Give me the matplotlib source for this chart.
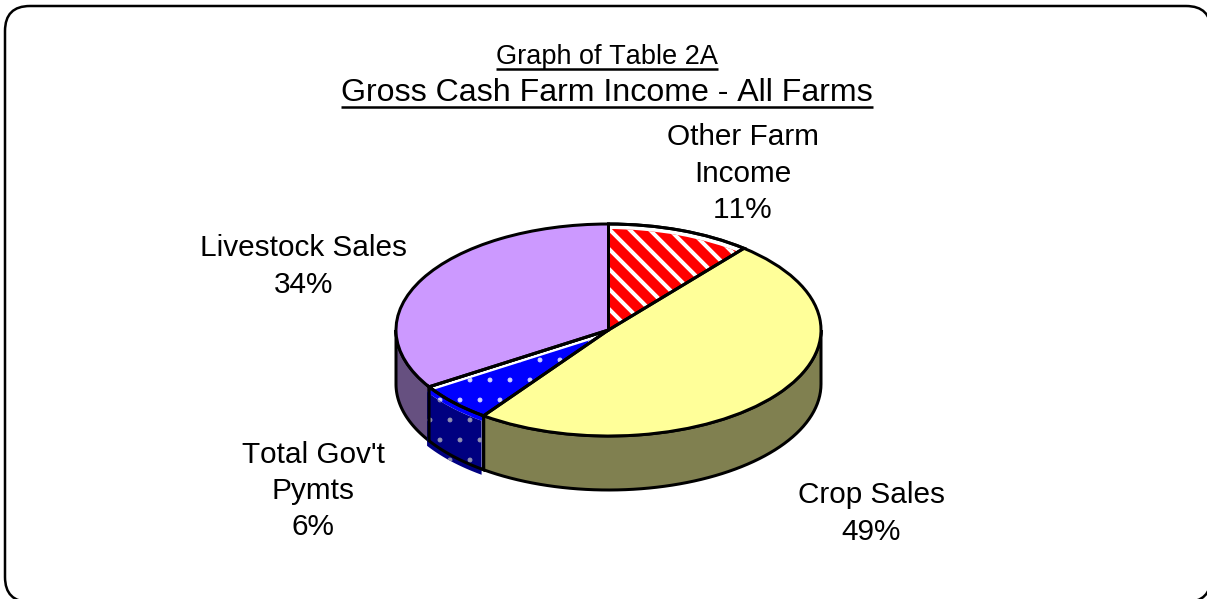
import matplotlib
matplotlib.use('Agg')
import matplotlib.pyplot as plt
from matplotlib.patches import FancyBboxPatch, Polygon, Wedge
import numpy as np

# Gross cash farm income shares, clockwise from 12 o'clock
categories = ['Other Farm\nIncome', 'Crop Sales', "Total Gov't\nPymts", 'Livestock Sales']
shares = [11, 49, 6, 34]
top_colors = ['white', '#FFFF99', 'white', '#CC99FF']
wall_colors = ['white', '#808050', 'white', '#665080']
title_small = 'Graph of Table 2A'
title_large = 'Gross Cash Farm Income - All Farms'

W, H = 1207, 599
DPI = 120
PX = 72 / DPI

label_xy = [(743, 173.5), (871, 513.5), (313, 491), (304, 266.5)]


def underlined(ax, x, y, s, size, gap):
    t = ax.text(x, y, s, fontsize=size, ha='center', va='baseline', color='black')
    box = t.get_window_extent(fig.canvas.get_renderer())
    ax.plot([box.x0, box.x1], [y + gap, y + gap], color='black', lw=2.5 * PX, solid_capstyle='butt')


def wall(theta1, theta2, depth, shift=(0, 0)):
    # side of the disc below the arc between two matplotlib angles
    a = np.radians(np.linspace(theta1, theta2, 60))
    x = np.cos(a) + shift[0]
    y = np.sin(a) + shift[1]
    return np.r_[np.c_[x, y], np.c_[x[::-1], y[::-1] - depth]]


plt.rcParams['font.family'] = ['Liberation Sans', 'DejaVu Sans']
plt.rcParams['text.kerning_factor'] = 6
fig = plt.figure(figsize=(W / DPI, H / DPI), dpi=DPI)

# background axes in pixel units, for the frame and all text
bg = fig.add_axes([0, 0, 1, 1])
bg.set_xlim(0, W)
bg.set_ylim(H, 0)
bg.axis('off')
# the frame runs off the right and bottom of the canvas
bg.add_patch(FancyBboxPatch((5, 6), 1206, 596, boxstyle='round,pad=0,rounding_size=25',
                            fc='white', ec='black', lw=2.5 * PX, clip_on=False))
underlined(bg, 607, 64, title_small, 16.3, 4.5)
underlined(bg, 607, 101, title_large, 19.3, 6)
for name, share, (lx, ly) in zip(categories, shares, label_xy):
    bg.text(lx, ly, f'{name}\n{share}%', fontsize=17.84, ha='center', va='center', linespacing=1.37)

# pie axes, stretched so the unit circle becomes the tilted disc
cx, cy, rx, ry = 608.5, 330, 212.5, 106
ax = fig.add_axes([(cx - rx) / W, 1 - (cy + ry) / H, 2 * rx / W, 2 * ry / H])
ax.patch.set_visible(False)
wedges, _ = ax.pie(shares, colors=top_colors, startangle=90, counterclock=False, radius=1,
                   wedgeprops=dict(edgecolor='black', linewidth=3 * PX, clip_on=False, zorder=3))
ax.set_aspect('auto')
ax.set_xlim(-1, 1)
ax.set_ylim(-1, 1)
ax.axis('off')

depth = 54 / ry
shift = (-2 / rx, -5 / ry)
line = dict(edgecolor='black', linewidth=3 * PX, clip_on=False)

# side walls, only the front half of the disc shows
for w, col in zip(wedges, wall_colors):
    t1, t2 = max(w.theta1, 180), min(w.theta2, 360)
    if w.theta1 < 0:
        t1, t2 = max(w.theta1 + 360, 180), min(w.theta2 + 360, 360)
    if t2 <= t1:
        continue
    ax.add_patch(Polygon(wall(t1, t2, depth), closed=True, facecolor=col, zorder=1, **line))

other, crop, gov, livestock = wedges

# patterned fills sit slightly off their outlines
gov_wall = wall(gov.theta1 % 360, gov.theta2 % 360, depth, shift)
plt.rcParams['hatch.linewidth'] = 0.5
ax.add_patch(Polygon(gov_wall, closed=True, facecolor='#000080', edgecolor='#9090B0', hatch='.',
                     linewidth=0, clip_on=False, zorder=1.5))
ax.add_patch(Wedge(shift, 1, gov.theta1, gov.theta2, facecolor='#0000FF', edgecolor='#D0D0FF', hatch='.',
                   linewidth=0, clip_on=False, zorder=2))
plt.rcParams['hatch.linewidth'] = 2.4
ax.add_patch(Wedge(shift, 1, other.theta1, other.theta2, facecolor='#FF0000', edgecolor='white',
                   hatch='\\\\', linewidth=0, clip_on=False, zorder=2))

# white wedges only give the backing, the outlines go back on top
for w in (other, gov):
    w.set_zorder(0.5)
    ax.add_patch(Wedge((0, 0), 1, w.theta1, w.theta2, fill=False, zorder=4, **line))
ax.add_patch(Polygon(wall(gov.theta1 % 360, gov.theta2 % 360, depth), closed=True, fill=False, zorder=4, **line))

fig.savefig('out.png', dpi=DPI)
